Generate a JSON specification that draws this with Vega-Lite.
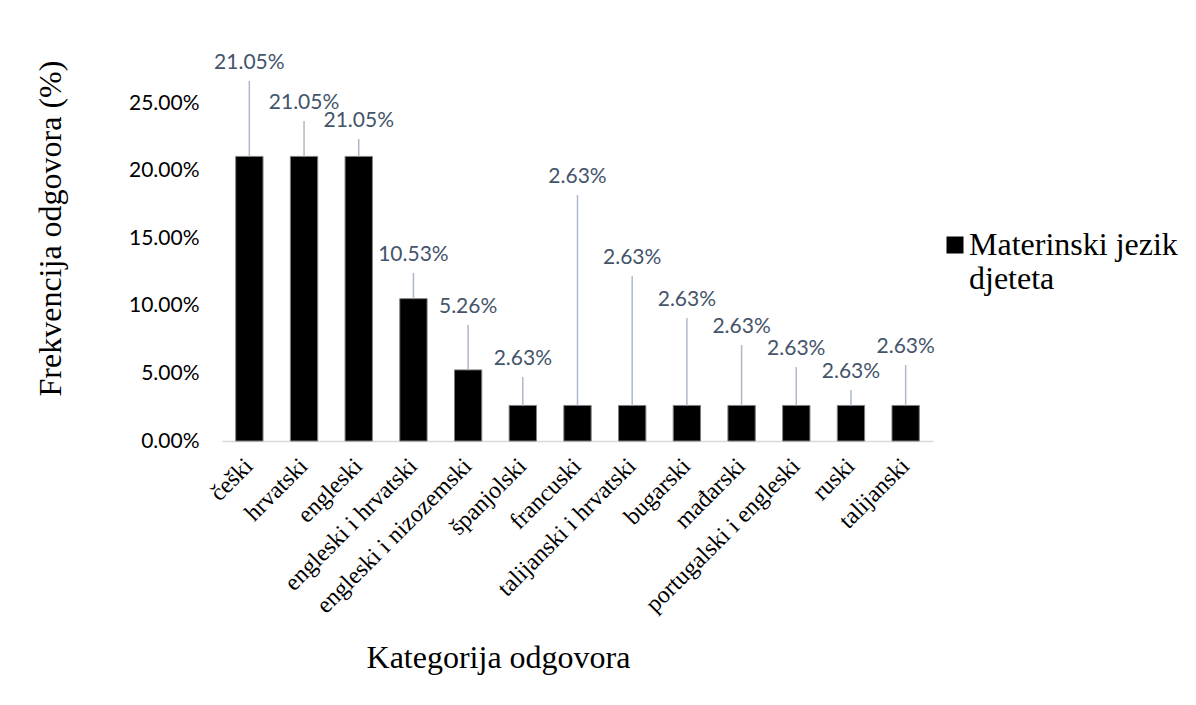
{
  "$schema": "https://vega.github.io/schema/vega-lite/v6.json",
  "width": 711,
  "height": 338,
  "autosize": {"type": "none"},
  "padding": {"left": 222, "top": 103, "right": 263, "bottom": 264},
  "background": "white",
  "data": {
    "values": [
      {"jezik": "češki", "udio": 0.2105, "razina_oznake": 0.2796},
      {"jezik": "hrvatski", "udio": 0.2105, "razina_oznake": 0.2500},
      {"jezik": "engleski", "udio": 0.2105, "razina_oznake": 0.2367},
      {"jezik": "engleski i hrvatski", "udio": 0.1053, "razina_oznake": 0.1376},
      {"jezik": "engleski i nizozemski", "udio": 0.0526, "razina_oznake": 0.0991},
      {"jezik": "španjolski", "udio": 0.0263, "razina_oznake": 0.0607},
      {"jezik": "francuski", "udio": 0.0263, "razina_oznake": 0.1953},
      {"jezik": "talijanski i hrvatski", "udio": 0.0263, "razina_oznake": 0.1354},
      {"jezik": "bugarski", "udio": 0.0263, "razina_oznake": 0.1043},
      {"jezik": "mađarski", "udio": 0.0263, "razina_oznake": 0.0843},
      {"jezik": "portugalski i engleski", "udio": 0.0263, "razina_oznake": 0.0680},
      {"jezik": "ruski", "udio": 0.0263, "razina_oznake": 0.0510},
      {"jezik": "talijanski", "udio": 0.0263, "razina_oznake": 0.0695}
    ]
  },
  "encoding": {
    "x": {
      "field": "jezik",
      "type": "nominal",
      "sort": null,
      "scale": {"paddingInner": 0.5, "paddingOuter": 0.25},
      "axis": {
        "title": "Kategorija odgovora",
        "titleFont": "Liberation Serif",
        "titleFontSize": 32,
        "titleFontWeight": "normal",
        "titleColor": "black",
        "titleX": 276,
        "titleY": 216,
        "titleBaseline": "middle",
        "titleAlign": "center",
        "labelAngle": -45,
        "labelFont": "Liberation Serif",
        "labelFontSize": 24,
        "labelColor": "black",
        "labelPadding": 21,
        "labelBaseline": "middle",
        "labelLimit": 400,
        "ticks": false,
        "domainColor": "#D9D9D9",
        "domainWidth": 1.5,
        "grid": false
      }
    }
  },
  "layer": [
    {
      "mark": {"type": "bar", "stroke": "#808080", "strokeWidth": 1},
      "encoding": {
        "y": {
          "field": "udio",
          "type": "quantitative",
          "scale": {"domain": [0, 0.25], "nice": false},
          "axis": {
            "title": "Frekvencija odgovora (%)",
            "titleFont": "Liberation Serif",
            "titleFontSize": 32,
            "titleFontWeight": "normal",
            "titleColor": "black",
            "titleAngle": -90,
            "titleX": -172,
            "titleY": 125,
            "titleAlign": "center",
            "titleBaseline": "middle",
            "values": [0, 0.05, 0.1, 0.15, 0.2, 0.25],
            "format": ".2%",
            "labelFont": "Lato",
            "labelFontSize": 21,
            "labelColor": "black",
            "labelPadding": 23,
            "ticks": false,
            "domain": false,
            "grid": false
          }
        },
        "color": {
          "datum": "Materinski jezik djeteta",
          "scale": {"range": ["black"]},
          "legend": {
            "title": null,
            "orient": "none",
            "legendX": 717,
            "legendY": 126,
            "symbolType": "square",
            "symbolSize": 289,
            "symbolStrokeWidth": 0,
            "labelFont": "Liberation Serif",
            "labelFontSize": 32,
            "labelColor": "black",
            "labelLimit": 400,
            "labelOffset": -2,
            "labelBaseline": "middle",
            "labelExpr": "['Materinski jezik', 'djeteta']"
          }
        }
      }
    },
    {
      "mark": {"type": "rule", "color": "#ADB9CA", "strokeWidth": 1.5, "yOffset": 18},
      "encoding": {
        "y": {"field": "razina_oznake", "type": "quantitative"},
        "y2": {"field": "udio"}
      }
    },
    {
      "mark": {"type": "text", "font": "Lato", "fontSize": 21, "color": "#44546A", "baseline": "middle", "align": "center"},
      "encoding": {
        "y": {"field": "razina_oznake", "type": "quantitative"},
        "text": {"field": "udio", "type": "quantitative", "format": ".2%"}
      }
    }
  ],
  "config": {"view": {"stroke": null}}
}
